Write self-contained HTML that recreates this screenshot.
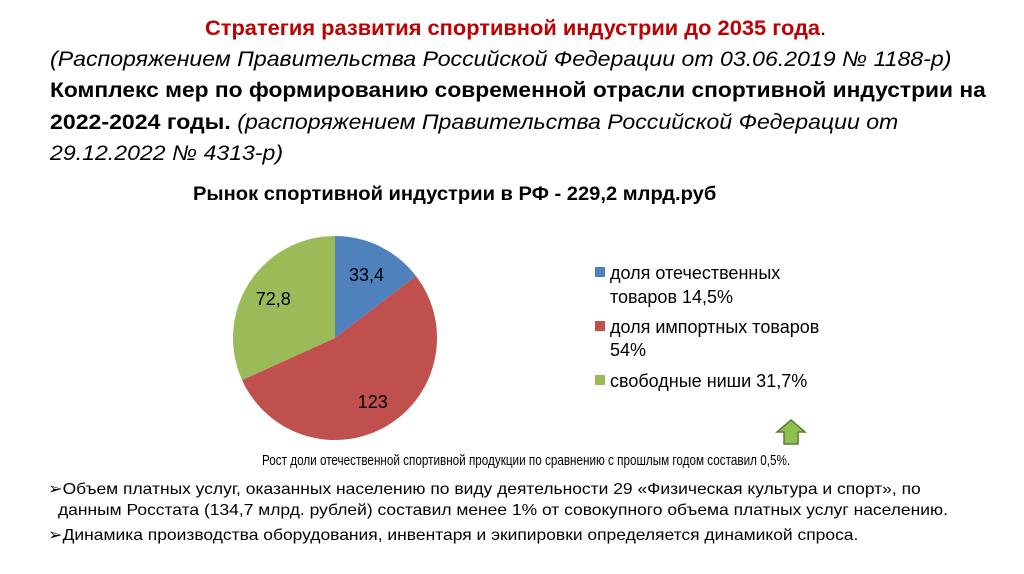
<!DOCTYPE html>
<html><head><meta charset="utf-8">
<style>
body{margin:0;width:1024px;height:574px;background:#fff;font-family:"Liberation Sans","DejaVu Sans",sans-serif;overflow:hidden;position:relative}
.t{position:absolute;white-space:nowrap;color:#000;transform-origin:left top}
.h{font-size:21px;transform:scaleX(1.1)}
.b{font-size:16px;transform:scaleX(1.09)}
</style></head><body>
<div class="t" style="left:205px;top:17px;font-size:21px;font-weight:bold;color:#c00000;transform:scaleX(1.04)">Стратегия развития спортивной индустрии до 2035 года<span style="font-weight:normal;color:#000">.</span></div>
<div class="t h" style="left:50px;top:48px;font-style:italic">(Распоряжением Правительства Российской Федерации от 03.06.2019 № 1188-р)</div>
<div class="t" style="left:50px;top:79px;font-size:21px;font-weight:bold;transform:scaleX(1.085)">Комплекс мер по формированию современной отрасли спортивной индустрии на</div>
<div class="t h" style="left:50px;top:111px;"><b>2022-2024 годы.</b> <i>(распоряжением Правительства Российской Федерации от</i></div>
<div class="t h" style="left:50px;top:142px;font-style:italic">29.12.2022 № 4313-р)</div>
<div class="t" style="left:193px;top:184px;font-size:19px;font-weight:bold;transform:scaleX(1.06)">Рынок спортивной индустрии в РФ - 229,2 млрд.руб</div>

<svg id="chart" width="1024" height="574" style="position:absolute;left:0;top:0"></svg>

<div class="t" style="left:262px;top:452px;font-size:15px;transform:scaleX(0.78)">Рост доли отечественной спортивной продукции по сравнению с прошлым годом составил 0,5%.</div>

<div class="t b" style="left:48px;top:479px;">➢Объем платных услуг, оказанных населению по виду деятельности 29 «Физическая культура и спорт», по</div>
<div class="t b" style="left:58px;top:502px;">данным Росстата (134,7 млрд. рублей) составил менее 1% от совокупного объема платных услуг населению.</div>
<div class="t b" style="left:48px;top:525px;">➢Динамика производства оборудования, инвентаря и экипировки определяется динамикой спроса.</div>

<script>
const categories=["доля отечественных товаров 14,5%","доля импортных товаров 54%","свободные ниши 31,7%"];
const values=[33.4,123,72.8];
const labels=["33,4","123","72,8"];
const colors=["#4f81bd","#c0504d","#9bbb59"];
const svg=document.getElementById('chart');
const NS='http://www.w3.org/2000/svg';
const cx=335,cy=338,r=102;
const total=values.reduce((a,b)=>a+b,0);
function pt(a,rr){return [cx+rr*Math.sin(a),cy-rr*Math.cos(a)];}
let a0=0;
const labR=[0.7,0.72,0.72];
values.forEach((v,i)=>{
  const a1=a0+v/total*2*Math.PI;
  const p0=pt(a0,r),p1=pt(a1,r);
  const large=(a1-a0)>Math.PI?1:0;
  const path=document.createElementNS(NS,'path');
  path.setAttribute('d',`M${cx},${cy}L${p0[0]},${p0[1]}A${r},${r} 0 ${large} 1 ${p1[0]},${p1[1]}Z`);
  path.setAttribute('fill',colors[i]);
  
  
  svg.appendChild(path);
  const am=(a0+a1)/2;const lp=pt(am,r*labR[i]);
  const t=document.createElementNS(NS,'text');
  t.setAttribute('x',lp[0]);t.setAttribute('y',lp[1]+7);
  t.setAttribute('text-anchor','middle');t.setAttribute('font-size','18');
  t.setAttribute('font-family','Liberation Sans, sans-serif');
  t.textContent=labels[i];
  
  
  svg.appendChild(t);
  a0=a1;
});
const legY=[[279,303],[333,356],[387]];
const legLines=[["доля отечественных","товаров 14,5%"],["доля импортных товаров","54%"],["свободные ниши 31,7%"]];
categories.forEach((c,i)=>{
  const g=document.createElementNS(NS,'g');
  
  
  const s=document.createElementNS(NS,'rect');
  s.setAttribute('x',595);s.setAttribute('y',legY[i][0]-12);s.setAttribute('width',10);s.setAttribute('height',10);
  s.setAttribute('fill',colors[i]);g.appendChild(s);
  legLines[i].forEach((ln,j)=>{
    const t=document.createElementNS(NS,'text');
    t.setAttribute('x',610);t.setAttribute('y',legY[i][j]);
    t.setAttribute('font-size','18');t.setAttribute('font-family','Liberation Sans, sans-serif');
    t.textContent=ln;g.appendChild(t);
  });
  svg.appendChild(g);
});
const ar=document.createElementNS(NS,'path');
ar.setAttribute('d','M791,420 L805,432 L798,432 L798,444 L784,444 L784,432 L777,432 Z');
ar.setAttribute('fill','#8cc152');ar.setAttribute('stroke','#5a7f2e');ar.setAttribute('stroke-width','1.5');


svg.appendChild(ar);
</script>
</body></html>
